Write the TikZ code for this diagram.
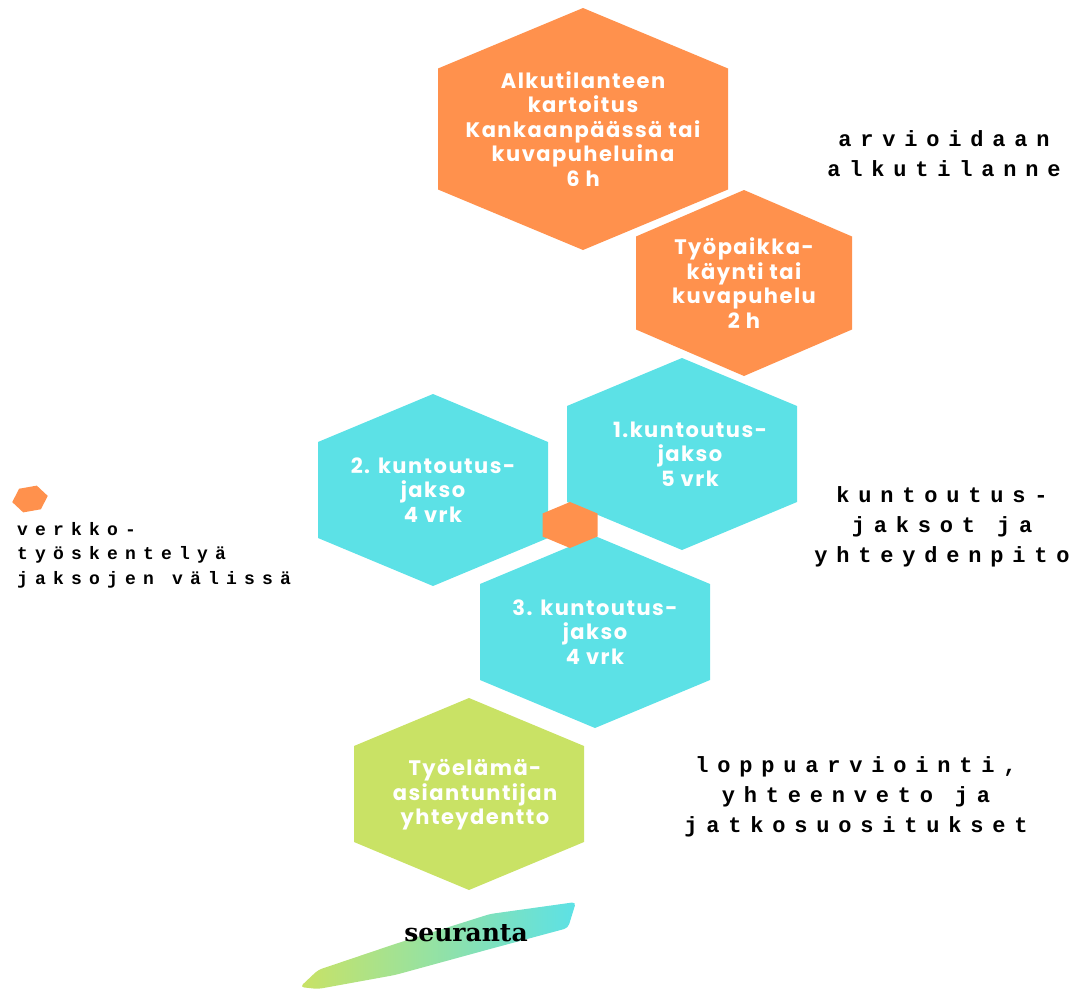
\documentclass[tikz,border=0pt]{standalone}
\usepackage{fontspec}
\usepackage{xcolor}
\newfontfamily\hexfont[LetterSpace=7]{Poppins}
\newfontfamily\sidefont[LetterSpace=40]{Liberation Mono}
\newfontfamily\brushfont{DejaVu Serif}
\definecolor{hexorange}{HTML}{FF914D}
\definecolor{hexcyan}{HTML}{5CE1E6}
\definecolor{hexgreen}{HTML}{C9E265}

\begin{document}
\begin{tikzpicture}[x=1pt,y=-1pt]
	\tikzstyle{every node}=[inner sep=0pt]
	\tikzstyle{hextext}=[align=center,text=white,font=\hexfont\bfseries\fontsize{21}{24.5}\selectfont]
	\tikzstyle{sidetext}=[align=center,font=\sidefont\bfseries\fontsize{22}{30}\selectfont]
	%\tikzstyle{sidetext}=[align=center,font=\ttfamily\large]
	\useasboundingbox (0,0) rectangle (1081,993);
	% hexagons: name/x/y/half width/radius/colour
	\foreach \nm/\cx/\cy/\w/\r/\col in {alku/583/129/145/121/hexorange,
		tyopaikka/744/283/108/93/hexorange,
		jakso1/682/454/115/96/hexcyan,
		jakso2/433/490/115/96/hexcyan,
		jakso3/595/632/115/96/hexcyan,
		valissa/570/525/27.5/23/hexorange,
		tyoelama/469/794/115/96/hexgreen}{
		\coordinate (\nm) at (\cx,\cy);
		\fill[\col] (\cx,\cy-\r) -- (\cx+\w,\cy-\r/2) -- (\cx+\w,\cy+\r/2) -- (\cx,\cy+\r) -- (\cx-\w,\cy+\r/2) -- (\cx-\w,\cy-\r/2) -- cycle;
	}
	\coordinate (selite) at (30,499);
	\fill[hexorange,rotate around={10:(selite)}] (48,499) -- (39,511) -- (21,511) -- (12,499) -- (21,487) -- (39,487) -- cycle;
	% texts in the hexagons
	\node[hextext] (alkuteksti) at (alku) {Alkutilanteen\\kartoitus\\Kankaanpäässä tai\\kuvapuheluina\\6 h};
	\node[hextext] (tyopaikkateksti) at (tyopaikka) {Työpaikka-\\käynti tai\\kuvapuhelu\\2 h};
	\node[hextext] (jakso1teksti) at (690,454) {1.kuntoutus-\\jakso\\5 vrk};
	\node[hextext] (jakso2teksti) at (jakso2) {2. kuntoutus-\\jakso\\4 vrk};
	\node[hextext] (jakso3teksti) at (jakso3) {3. kuntoutus-\\jakso\\4 vrk};
	\node[hextext] (tyoelamateksti) at (475,795) {Työelämä-\\asiantuntijan\\yhteydentto};
	% phases on the side
	\node[sidetext] (arvio) at (944,154) {arvioidaan\\alkutilanne};
	\node[sidetext] (jaksot) at (942,527) {kuntoutus-\\jaksot ja\\yhteydenpito};
	\node[sidetext] (loppu) at (856,797) {loppuarviointi,\\yhteenveto ja\\jatkosuositukset};
	\node[sidetext,align=left,anchor=west,font=\sidefont\bfseries\fontsize{18}{24.5}\selectfont] (verkko) at (17,555) {verkko-\\työskentelyä\\jaksojen välissä};
	% brush under seuranta
	\shade[left color=hexgreen,right color=hexcyan,rounded corners=4pt] (300,987) -- (318,970) -- (395,944) -- (490,914) -- (576,902) -- (568,928) -- (490,949) -- (395,975) -- (318,989) -- cycle;
	\node[font=\brushfont\bfseries\fontsize{25}{28}\selectfont] (seuranta) at (466,933) {seuranta};
\end{tikzpicture}
\end{document}
